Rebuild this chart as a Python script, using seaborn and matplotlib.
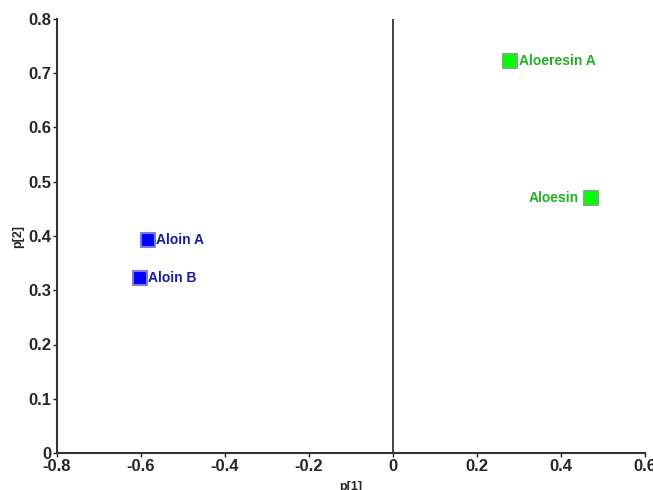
import numpy as np
import pandas as pd
import matplotlib
matplotlib.use("Agg")
import matplotlib.pyplot as plt
import seaborn as sns

# loadings p[1] / p[2]
compounds = ["Aloin A", "Aloin B", "Aloeresin A", "Aloesin"]
p1 = [-0.583, -0.602, 0.279, 0.471]
p2 = [0.392, 0.322, 0.722, 0.470]
group = ["aloin", "aloin", "chromone", "chromone"]

df = pd.DataFrame({"compound": compounds, "p1": p1, "p2": p2, "group": group})

sns.set_style("white")
plt.rcParams["font.family"] = ["Liberation Sans", "DejaVu Sans"]
plt.rcParams["font.weight"] = "bold"

fill = {"aloin": "#0000ff", "chromone": "#00ff00"}
edge = {"aloin": "#7a7ae0", "chromone": "#66bb66"}
txt = {"aloin": "#1a1aa8", "chromone": "#22b022"}

fig = plt.figure(figsize=(6.53, 4.90), dpi=100)
ax = fig.add_axes([57 / 653, 37 / 490, 588 / 653, 434 / 490])

for g in ["aloin", "chromone"]:
    sub = df[df["group"] == g]
    sns.scatterplot(data=sub, x="p1", y="p2", marker="s", s=90, color=fill[g],
                    edgecolor=edge[g], linewidth=1.5, ax=ax, legend=False, zorder=3)

for _, r in df.iterrows():
    if r["compound"] == "Aloesin":
        ax.annotate(r["compound"], (r["p1"], r["p2"]), xytext=(-9, 0), textcoords="offset points",
                    ha="right", va="center", color=txt[r["group"]], fontsize=10, fontweight="bold")
    else:
        ax.annotate(r["compound"], (r["p1"], r["p2"]), xytext=(6, 0), textcoords="offset points",
                    ha="left", va="center", color=txt[r["group"]], fontsize=10, fontweight="bold")

ax.axvline(0, color="#222222", lw=1.2, zorder=1)

ax.set_xlim(-0.8, 0.6)
ax.set_ylim(0, 0.8)
ax.set_xticks(np.arange(-0.8, 0.61, 0.2))
ax.set_xticklabels(["-0.8", "-0.6", "-0.4", "-0.2", "0", "0.2", "0.4", "0.6"])
ax.set_yticks(np.arange(0, 0.81, 0.1))
ax.set_yticklabels(["0", "0.1", "0.2", "0.3", "0.4", "0.5", "0.6", "0.7", "0.8"])
ax.tick_params(axis="both", labelsize=12, length=3, width=1, color="#222222", pad=1,
               bottom=True, left=True, direction="out")
for t in ax.get_xticklabels() + ax.get_yticklabels():
    t.set_fontweight("bold")

for s in ["top", "right"]:
    ax.spines[s].set_visible(False)
for s in ["left", "bottom"]:
    ax.spines[s].set_color("#333333")
    ax.spines[s].set_linewidth(1.5)

ax.set_xlabel("p[1]", fontsize=9, fontweight="bold", labelpad=5)
ax.set_ylabel("p[2]", fontsize=9, fontweight="bold", labelpad=3)

fig.savefig("out.png", dpi=100)
